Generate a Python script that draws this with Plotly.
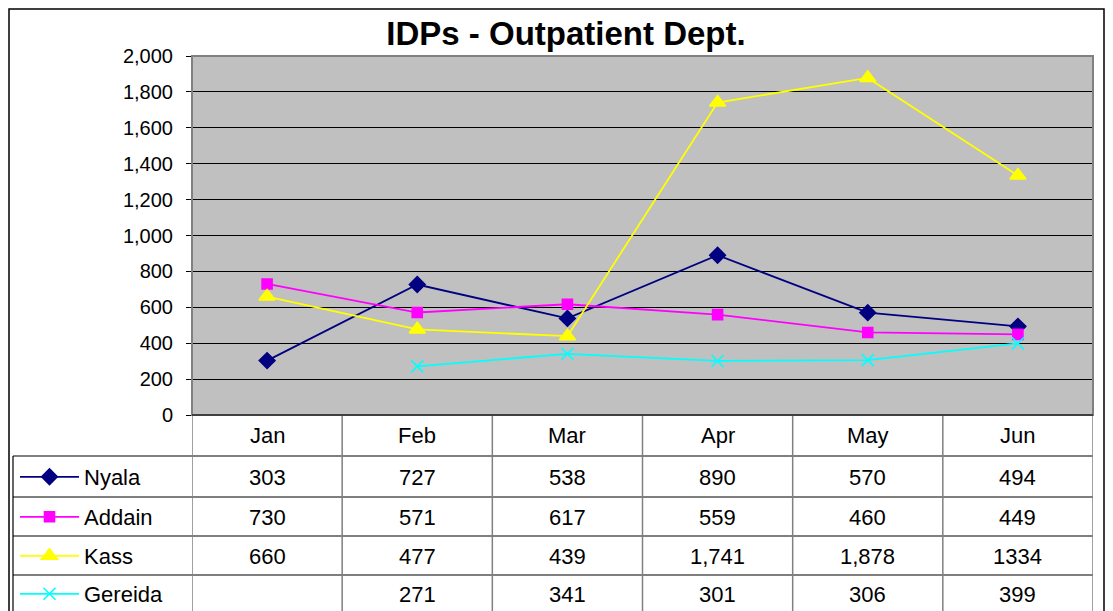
import plotly.graph_objects as go

# page body has an 8px margin; figure is sized to fit inside the 1113x611 window
OX, OY = 8, 8
W, H = 1113 - 2 * OX, 611 - OY

months = ["Jan", "Feb", "Mar", "Apr", "May", "Jun"]
nyala = [303, 727, 538, 890, 570, 494]
addain = [730, 571, 617, 559, 460, 449]
kass = [660, 477, 439, 1741, 1878, 1334]
gereida = [None, 271, 341, 301, 306, 399]
y_ticks = list(range(0, 2001, 200))
no_comma = {("Kass", 5)}

series = [
    ("Nyala", nyala, "#000080", "diamond", 12),
    ("Addain", addain, "#FF00FF", "square", 10),
    ("Kass", kass, "#FFFF00", "triangle-up", 14),
    ("Gereida", gereida, "#00FFFF", "x-thin-open", 12),
]

def px(x):
    return (x - OX) / W

def py(y):
    return 1 - (y - OY) / H

PL, PR, PT, PB = 192, 1093, 56, 415
row_lines = [456, 497, 536, 575]
row_centers = [477, 517, 556, 594]
FONT = "Liberation Sans, Arial, sans-serif"
TSIZE = 22

fig = go.Figure()
for k, (name, vals, col, sym, sz) in enumerate(series):
    lg = "legend" if k == 0 else f"legend{k+1}"
    fig.add_trace(go.Scatter(
        x=list(range(len(months))), y=vals, name=name, mode="lines+markers",
        line=dict(color=col, width=1.8),
        marker=dict(symbol=sym, size=sz, color=col, line=dict(color=col, width=1.6)),
        connectgaps=False, legend=lg, cliponaxis=False,
    ))

shapes = []
# outer border
shapes.append(dict(type="rect", xref="paper", yref="paper", x0=px(9), x1=px(OX + W - 1), y0=py(H + OY + 10),
                   y1=py(OY + 1), line=dict(color="black", width=1.5), layer="below"))
# plot area fill
shapes.append(dict(type="rect", xref="paper", yref="paper", x0=px(PL), x1=px(PR), y0=py(PB), y1=py(PT),
                   fillcolor="#C0C0C0", line=dict(width=0), layer="below"))
# table horizontal lines
for yy in row_lines:
    shapes.append(dict(type="line", xref="paper", yref="paper", x0=px(13), x1=px(PR), y0=py(yy), y1=py(yy),
                       line=dict(color="black", width=1.2)))
# left legend column border
shapes.append(dict(type="line", xref="paper", yref="paper", x0=px(13), x1=px(13), y0=py(row_lines[0]),
                   y1=py(H + OY + 10), line=dict(color="black", width=1.2)))
# column separators
for i in range(len(months) + 1):
    shapes.append(dict(type="line", xref="x", yref="paper", x0=i - 0.5, x1=i - 0.5, y0=py(PB),
                       y1=py(H + OY + 10), line=dict(color="#808080", width=1.5)))
# plot border
shapes.append(dict(type="rect", xref="paper", yref="paper", x0=px(PL), x1=px(PR), y0=py(PB), y1=py(PT),
                   line=dict(color="#808080", width=2), layer="above"))
shapes.append(dict(type="line", xref="paper", yref="paper", x0=px(PL), x1=px(PR), y0=py(PB), y1=py(PB),
                   line=dict(color="black", width=1.2)))

annotations = []
for i, m in enumerate(months):
    annotations.append(dict(x=i, xref="x", y=py(435), yref="paper", text=m, showarrow=False,
                            font=dict(family=FONT, size=TSIZE, color="black"), xanchor="center", yanchor="middle"))
for r, (name, vals, col, sym, sz) in enumerate(series):
    for i, v in enumerate(vals):
        if v is None:
            continue
        t = str(v) if (name, i) in no_comma else f"{v:,}"
        annotations.append(dict(x=i, xref="x", y=py(row_centers[r]), yref="paper", text=t, showarrow=False,
                                font=dict(family=FONT, size=TSIZE, color="black"),
                                xanchor="center", yanchor="middle"))

legends = {}
for k in range(len(series)):
    key = "legend" if k == 0 else f"legend{k+1}"
    legends[key] = dict(x=px(15), y=py(row_centers[k]), xanchor="left", yanchor="middle",
                        bgcolor="rgba(0,0,0,0)", borderwidth=0, itemwidth=59,
                        font=dict(family=FONT, size=TSIZE, color="black"))

fig.update_layout(
    width=W, height=H, margin=dict(l=0, r=0, t=0, b=0, autoexpand=False),
    paper_bgcolor="white", plot_bgcolor="rgba(0,0,0,0)",
    title=dict(text="<b>IDPs - Outpatient Dept.</b>", x=px(566), xanchor="center", y=py(33), yanchor="middle",
               font=dict(family=FONT, size=33, color="black")),
    xaxis=dict(domain=[px(PL), px(PR)], range=[-0.5, 5.5], showgrid=False, showticklabels=False,
               zeroline=False, showline=False, ticks=""),
    yaxis=dict(domain=[py(PB), py(PT)], range=[0, 2000], tickvals=y_ticks,
               ticktext=[f"{v:,}" for v in y_ticks], showgrid=True, gridcolor="black", gridwidth=1,
               zeroline=False, showline=False, ticks="outside", ticklen=5, tickcolor="black",
               tickfont=dict(family=FONT, size=20, color="black"), ticklabelstandoff=9),
    shapes=shapes, annotations=annotations, showlegend=True,
    **legends,
)
fig.write_html("out.html")
